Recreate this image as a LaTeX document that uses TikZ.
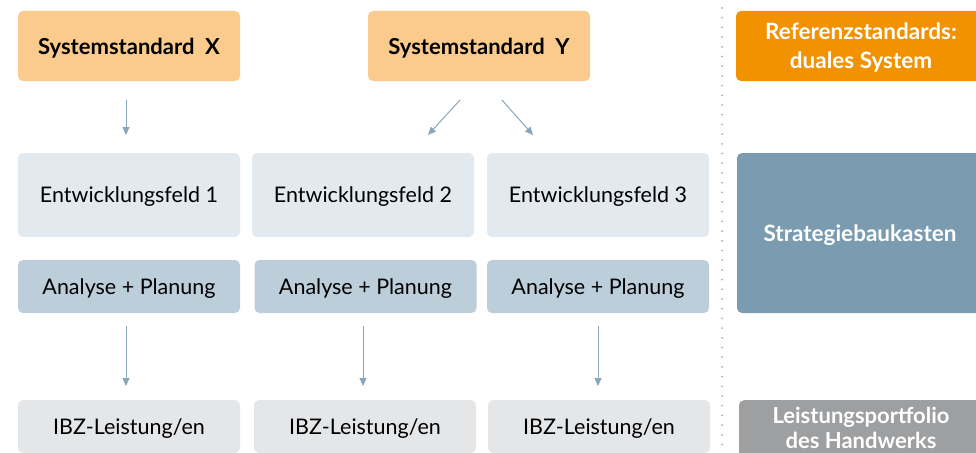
\documentclass[tikz,border=0pt]{standalone}
\usepackage{fontspec}
\setmainfont{Lato}
\usetikzlibrary{arrows.meta}
\definecolor{sysor}{HTML}{FBCB8D}
\definecolor{refor}{HTML}{F29200}
\definecolor{entw}{HTML}{E2E9EF}
\definecolor{anal}{HTML}{BCCEDA}
\definecolor{strat}{HTML}{7B9CB0}
\definecolor{ibz}{HTML}{E5E6E8}
\definecolor{leist}{HTML}{9D9FA1}
\definecolor{arr}{HTML}{8AA7BA}
\definecolor{dotc}{HTML}{A9ABAD}
\tikzset{
  box/.style={rectangle, rounded corners=5pt, inner sep=0pt, align=center, text depth=0pt, font=\fontsize{21.5}{25}\selectfont, text=black},
  sysbox/.style={box, fill=sysor, minimum width=222pt, minimum height=70pt, font=\fontsize{22}{26}\selectfont\bfseries},
  entbox/.style={box, fill=entw, minimum width=222pt, minimum height=84pt},
  anbox/.style={box, fill=anal, minimum width=222pt, minimum height=53pt},
  ibzbox/.style={box, fill=ibz, minimum width=222pt, minimum height=53pt},
  flow/.style={draw=arr, line width=1pt, -{Triangle[width=7pt,length=8pt]}},
}
\begin{document}
\begin{tikzpicture}[x=1pt,y=-1pt]
\useasboundingbox (0,0) rectangle (976,452);
\clip (0,0) rectangle (976,452);
% top row
\node[sysbox] (sx) at (129,46) {Systemstandard\ \ X};
\node[sysbox] (sy) at (479,46) {Systemstandard\ \ Y};
\node[box, fill=refor, minimum width=250pt, minimum height=70pt, text=white, font=\fontsize{22.5}{29}\selectfont\bfseries] (ref) at (861,46) {Referenzstandards:\\duales System};
% second row
\node[entbox] (e1) at (129,195) {Entwicklungsfeld 1};
\node[entbox] (e2) at (363,195) {Entwicklungsfeld 2};
\node[entbox] (e3) at (598,195) {Entwicklungsfeld 3};
% third row
\node[anbox] (a1) at (129,286.5) {Analyse + Planung};
\node[anbox] (a2) at (365.5,286.5) {Analyse + Planung};
\node[anbox] (a3) at (598,286.5) {Analyse + Planung};
\node[box, fill=strat, minimum width=246pt, minimum height=160pt, text=white, font=\fontsize{22.5}{26}\selectfont\bfseries] (st) at (860,233) {Strategiebaukasten};
% bottom row
\node[ibzbox] (i1) at (129,426.5) {IBZ-Leistung/en};
\node[ibzbox] (i2) at (365,426.5) {IBZ-Leistung/en};
\node[ibzbox] (i3) at (599,426.5) {IBZ-Leistung/en};
\node[box, fill=leist, minimum width=244pt, minimum height=70pt, anchor=north] (lp) at (861,400) {};
\node[font=\fontsize{22}{25}\selectfont\bfseries, text=white, align=center, inner sep=0pt] (lpt) at (861,428) {Leistungsportfolio\\des Handwerks};
% divider
\coordinate (dtop) at (722,8);
\coordinate (dbot) at (722,452);
\draw[dotc, line width=2pt, line cap=round, dash pattern=on 0pt off 9.7pt] (dtop) -- (dbot);
% arrows
\coordinate (ax1) at (126,100); \coordinate (bx1) at (126,135);
\coordinate (ay1) at (460,100); \coordinate (by1) at (428,135);
\coordinate (ay2) at (502,100); \coordinate (by2) at (533,135);
\draw[flow] (ax1) -- (bx1);
\draw[flow] (ay1) -- (by1);
\draw[flow] (ay2) -- (by2);
\coordinate (c1) at (126,326); \coordinate (d1) at (126,386);
\coordinate (c2) at (363,326); \coordinate (d2) at (363,386);
\coordinate (c3) at (598,326); \coordinate (d3) at (598,386);
\draw[flow] (c1) -- (d1);
\draw[flow] (c2) -- (d2);
\draw[flow] (c3) -- (d3);
\end{tikzpicture}
\end{document}
